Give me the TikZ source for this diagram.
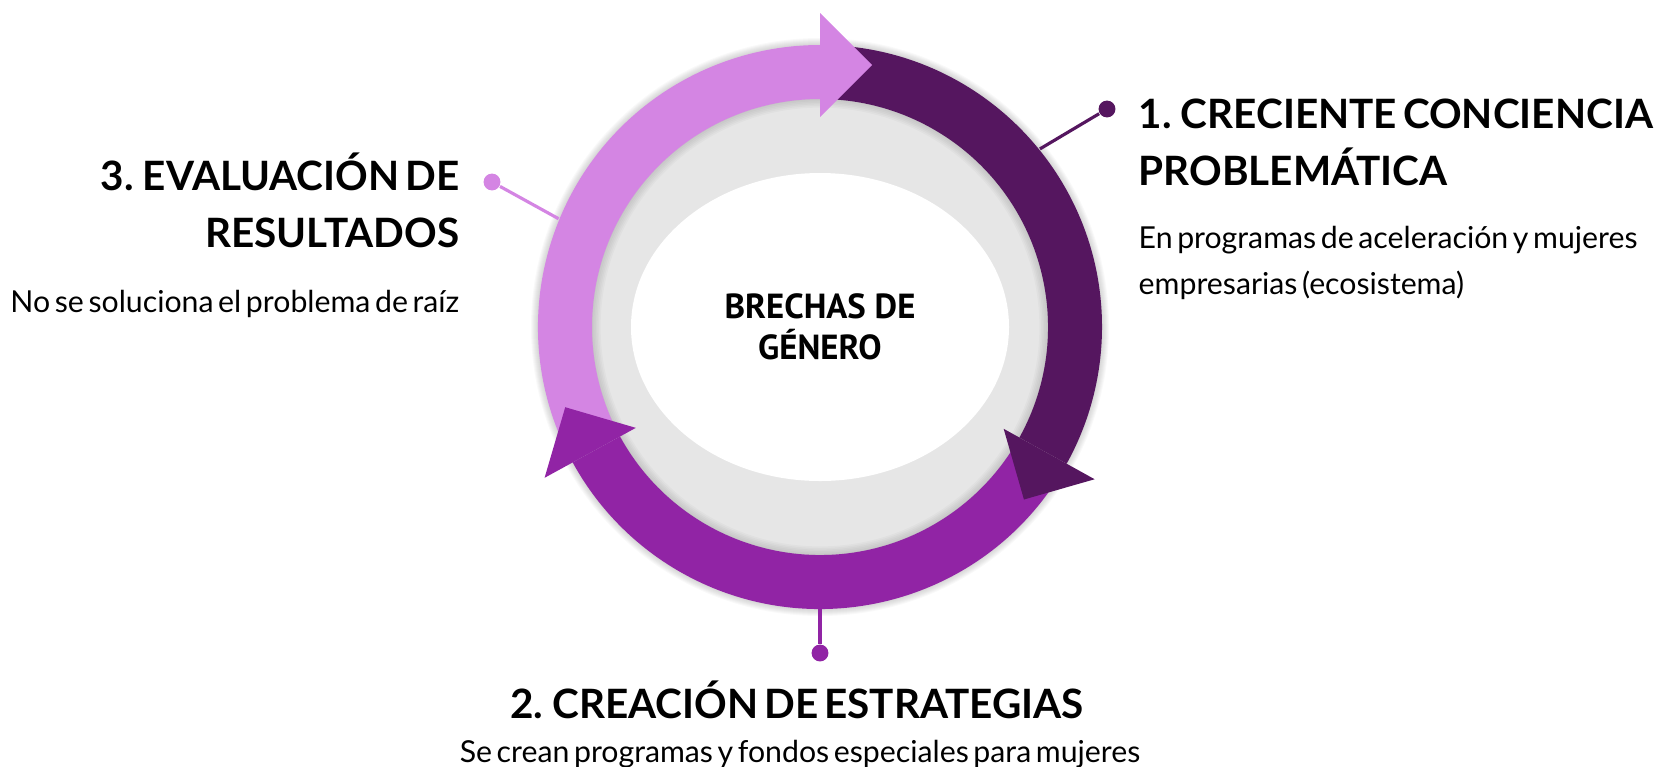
\documentclass[tikz,border=0pt]{standalone}
\usepackage{fontspec}
\setmainfont{Lato}[WordSpace=0.6]
\newfontfamily\centerfont{PT Sans}
\usetikzlibrary{calc}

\definecolor{lightlila}{HTML}{D485E3}
\definecolor{darklila}{HTML}{55165F}
\definecolor{midlila}{HTML}{9124A5}
\definecolor{ringgrey}{HTML}{E6E6E6}

\tikzset{
  title/.style={font=\fontsize{11.5}{16.2}\selectfont\bfseries, inner sep=0pt},
  subtitle/.style={font=\fontsize{8.6}{12.8}\selectfont, inner sep=0pt},
  pindot/.style={circle, fill=#1, inner sep=0pt, minimum size=4.8pt},
  pinline/.style={#1, line width=0.9pt},
}

\begin{document}
\begin{tikzpicture}[x=0.01cm, y=-0.01cm]
    \useasboundingbox (0,0) rectangle (1655,766);
    \coordinate (c) at (820,327);

    % Soft shadow round the ring
    \foreach \s in {1,...,7}
        \fill[black, opacity=0.025] (c) circle (282+\s);

    % Grey disc with inner shade
    \fill[ringgrey] (c) circle (240);
    \foreach \s in {1,...,6}
        \fill[black, opacity=0.025, even odd rule] (c) circle (229) (c) circle (229-1.6*\s);

    % White centre
    \fill[white] (c) ellipse [x radius=189, y radius=154];
    \node[font=\centerfont\fontsize{9.9}{11.6}\selectfont\bfseries, align=center] (core) at (c) {BRECHAS DE\\GÉNERO};

    % Arrow shafts
    \fill[lightlila] ($(c)+(153:282)$) arc[start angle=153, end angle=270, radius=282]
        -- ($(c)+(270:228)$) arc[start angle=270, end angle=153, radius=228] -- cycle;
    \fill[darklila] ($(c)+(272:282)$) arc[start angle=272, end angle=389, radius=282]
        -- ($(c)+(389:228)$) arc[start angle=389, end angle=272, radius=228] -- cycle;
    \fill[midlila] ($(c)+(31:282)$) arc[start angle=31, end angle=151.3, radius=282]
        -- ($(c)+(151.3:228)$) arc[start angle=151.3, end angle=31, radius=228] -- cycle;

    % Arrow heads
    \fill[lightlila] ($(c)+(270:210)$) -- ($(c)+(270:314)$) -- ($(c)+(270:262)+(360:52)$) -- cycle;
    \fill[darklila] ($(c)+(29:210)$) -- ($(c)+(29:314)$) -- ($(c)+(29:262)+(119:52)$) -- cycle;
    \fill[midlila] ($(c)+(151.3:210)$) -- ($(c)+(151.3:314)$) -- ($(c)+(151.3:262)+(241.3:52)$) -- cycle;

    % Pins
    \coordinate (edge1) at ($(c)+(-39:283)$);
    \coordinate (edge2) at ($(c)+(90:282)$);
    \coordinate (edge3) at ($(c)+(202.5:283)$);
    \node[pindot=darklila] (dot1) at (1107,109) {};
    \node[pindot=midlila] (dot2) at (820,653) {};
    \node[pindot=lightlila] (dot3) at (492,182) {};
    \draw[pinline=darklila] (edge1) -- (dot1);
    \draw[pinline=midlila] (edge2) -- (dot2);
    \draw[pinline=lightlila] (edge3) -- (dot3);

    % Texts
    \node[title, anchor=north west, align=left] (title1) at (1138,98) {1. CRECIENTE CONCIENCIA\\PROBLEMÁTICA};
    \node[subtitle, anchor=north west, align=left] (text1) at (1138,226) {En programas de aceleración y mujeres\\empresarias (ecosistema)};
    \node[title, anchor=north] (title2) at (797,680) {2. CREACIÓN DE ESTRATEGIAS};
    \node[subtitle, anchor=north] (text2) at (800,740) {Se crean programas y fondos especiales para mujeres};
    \node[title, anchor=north east, align=right] (title3) at (460,152) {3. EVALUACIÓN DE\\RESULTADOS};
    \node[subtitle, anchor=north east] (text3) at (460,290) {No se soluciona el problema de raíz};
\end{tikzpicture}
\end{document}
